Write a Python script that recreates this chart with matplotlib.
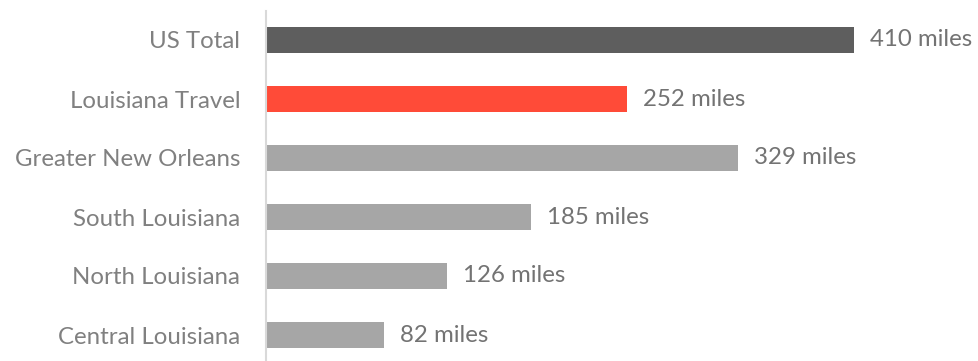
import matplotlib
matplotlib.use("Agg")
import matplotlib.pyplot as plt

categories = ["US Total", "Louisiana Travel", "Greater New Orleans",
              "South Louisiana", "North Louisiana", "Central Louisiana"]
miles = [410, 252, 329, 185, 126, 82]
bar_colors = ["#5e5e5e", "#ff4b38", "#a6a6a6", "#a6a6a6", "#a6a6a6", "#a6a6a6"]

plt.rcParams["font.family"] = ["Lato", "DejaVu Sans"]

fig = plt.figure(figsize=(9.79, 3.61), dpi=100)
ax = fig.add_axes([266 / 979, -3.5 / 361, 688 / 979, 354 / 361])

y = list(range(len(categories)))
ax.barh(y, miles, height=0.44, color=bar_colors, zorder=2)
ax.set_xlim(0, 480)
ax.set_ylim(len(categories) - 0.5, -0.5)

ax.set_yticks(y)
ax.set_yticklabels(categories, fontsize=17.3, color="#808080")
ax.tick_params(axis="y", length=0, pad=18.5)
ax.set_xticks([])

for s in ["top", "right", "bottom"]:
    ax.spines[s].set_visible(False)
ax.spines["left"].set_color("#d9d9d9")
ax.spines["left"].set_linewidth(1.5)

for yi, v in zip(y, miles):
    ax.annotate(f"{v} miles", xy=(v, yi), xytext=(11.5, 0), textcoords="offset points",
                va="center", ha="left", fontsize=17.3, color="#737373")

fig.savefig("out.png", dpi=100)
